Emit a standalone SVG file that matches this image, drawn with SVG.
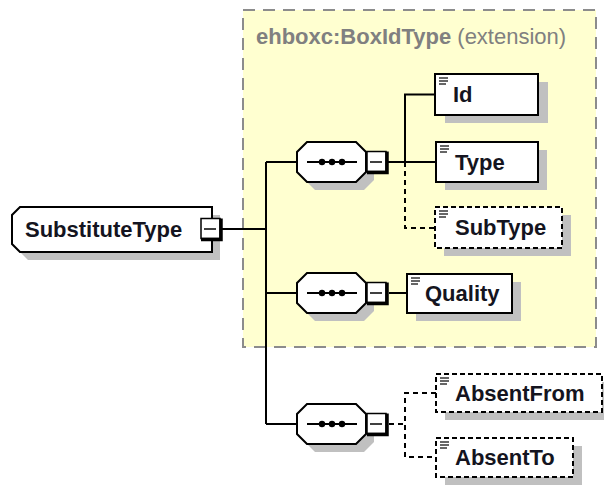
<svg xmlns="http://www.w3.org/2000/svg" width="604" height="486" viewBox="0 0 604 486">
<style>
.bg{fill:#ffffff}
.ext{fill:#ffffd0;stroke:#8c8c8c;stroke-width:2;stroke-dasharray:12,8}
.title{font-family:"Liberation Sans",Arial,sans-serif;font-size:22px;fill:#808080}
.lbl{font-family:"Liberation Sans",Arial,sans-serif;font-size:22px;font-weight:bold;fill:#141420}
.box{fill:#ffffff;stroke:#000000;stroke-width:2}
.dbox{fill:#ffffff;stroke:#000000;stroke-width:2;stroke-dasharray:5,3}
.shd{fill:#c0c0c0;stroke:none}
.ln{fill:none;stroke:#000000;stroke-width:2}
.dln{fill:none;stroke:#000000;stroke-width:2;stroke-dasharray:5,4}
.mbox{fill:#ffffff;stroke:#000000;stroke-width:1.5}
.mthick{fill:none;stroke:#000000;stroke-width:3.5}
.mline{stroke:#000000;stroke-width:1.5}
.icon{stroke:#333333;stroke-width:1.5}
.dot{fill:#000000}
</style>
<defs>
<g id="minus">
<rect class="mbox" x="0" y="0" width="19" height="20"/>
<polyline class="mthick" points="20,0 20,21 0,21"/>
<line class="mline" x1="3" y1="10.5" x2="15" y2="10.5"/>
</g>
<g id="seq">
<polygon class="shd" points="18,8 67,8 77,18 77,38 67,48 18,48 8,38 8,18"/>
<polygon class="box" points="10,0 59,0 69,10 69,30 59,40 10,40 0,30 0,10"/>
<line class="ln" x1="10" y1="20" x2="60" y2="20"/>
<circle class="dot" cx="25" cy="20" r="3.2"/>
<circle class="dot" cx="35" cy="20" r="3.2"/>
<circle class="dot" cx="45" cy="20" r="3.2"/>
<use href="#minus" x="70" y="9.5"/>
</g>
<g id="ico">
<line class="icon" x1="0" y1="0" x2="9" y2="0"/>
<line class="icon" x1="0" y1="3" x2="9" y2="3"/>
<line class="icon" x1="0" y1="6" x2="7" y2="6"/>
</g>
</defs>
<rect class="bg" x="0" y="0" width="604" height="486"/>
<g id="extension">
<rect class="ext" x="243" y="10" width="353" height="337"/>
<text class="title" x="256" y="44"><tspan font-weight="bold">ehboxc:BoxIdType</tspan> (extension)</text>
</g>
<g id="connectors">
<line class="ln" x1="220" y1="229" x2="266" y2="229"/>
<polyline class="ln" points="266,162 266,424"/>
<line class="ln" x1="266" y1="162" x2="297" y2="162"/>
<line class="ln" x1="266" y1="293" x2="297" y2="293"/>
<line class="ln" x1="266" y1="424" x2="297" y2="424"/>
<line class="ln" x1="388" y1="162" x2="436" y2="162"/>
<polyline class="ln" points="405,162 405,94.5 435,94.5"/>
<polyline class="dln" points="405,162 405,228 435,228"/>
<line class="ln" x1="389" y1="293" x2="407" y2="293"/>
<line class="dln" x1="389" y1="424" x2="405" y2="424"/>
<polyline class="dln" points="436,393 405,393 405,457 436,457"/>
</g>
<g id="SubstituteType">
<polygon class="shd" points="28,215 220,215 220,260 28,260 20,252 20,223"/>
<polygon class="box" points="20,207 212,207 212,252 20,252 12,244 12,215"/>
<text class="lbl" x="25" y="237">SubstituteType</text>
<use href="#minus" x="201" y="218.5"/>
</g>
<g id="seq1"><use href="#seq" x="297" y="142"/></g>
<g id="seq2"><use href="#seq" x="297" y="273"/></g>
<g id="seq3"><use href="#seq" x="297" y="404"/></g>
<g id="Id">
<rect class="shd" x="445" y="82" width="103" height="41"/>
<rect class="box" x="435" y="74" width="103" height="41"/>
<use href="#ico" x="439" y="78"/>
<text class="lbl" x="453" y="102">Id</text>
</g>
<g id="Type">
<rect class="shd" x="445" y="150" width="102" height="40"/>
<rect class="box" x="436" y="142" width="102" height="40"/>
<use href="#ico" x="440" y="146"/>
<text class="lbl" x="455" y="170">Type</text>
</g>
<g id="SubType">
<rect class="shd" x="444" y="215" width="127" height="41"/>
<rect class="dbox" x="435" y="207" width="127" height="41"/>
<use href="#ico" x="439" y="211"/>
<text class="lbl" x="455" y="235">SubType</text>
</g>
<g id="Quality">
<rect class="shd" x="416" y="282" width="105" height="39"/>
<rect class="box" x="407" y="274" width="105" height="39"/>
<use href="#ico" x="411" y="278"/>
<text class="lbl" x="425" y="301">Quality</text>
</g>
<g id="AbsentFrom">
<rect class="shd" x="445" y="382" width="166" height="38"/>
<rect class="dbox" x="436" y="374" width="166" height="38"/>
<use href="#ico" x="440" y="378"/>
<text class="lbl" x="455" y="401">AbsentFrom</text>
</g>
<g id="AbsentTo">
<rect class="shd" x="445" y="446" width="137" height="39"/>
<rect class="dbox" x="436" y="438" width="137" height="39"/>
<use href="#ico" x="440" y="442"/>
<text class="lbl" x="455" y="465">AbsentTo</text>
</g>
</svg>
